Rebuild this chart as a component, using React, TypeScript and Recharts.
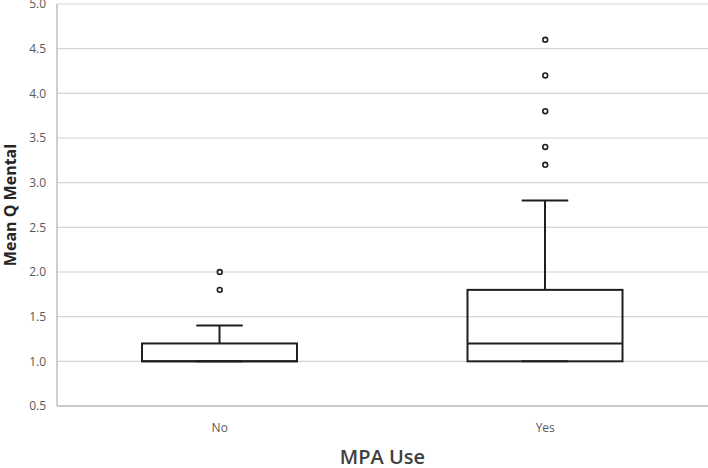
import React from 'react';
import { ComposedChart, Bar, Scatter, XAxis, YAxis, CartesianGrid } from 'recharts';

const categories = ['No', 'Yes'];
const whiskerLow = [1.0, 1.0];
const q1 = [1.0, 1.0];
const median = [1.0, 1.2];
const q3 = [1.2, 1.8];
const whiskerHigh = [1.4, 2.8];
const outliersNo = [1.8, 2.0];
const outliersYes = [3.2, 3.4, 3.8, 4.2, 4.6];
const yTicks = [0.5, 1.0, 1.5, 2.0, 2.5, 3.0, 3.5, 4.0, 4.5, 5.0];

const data = categories.map((c, i) => ({
  cat: c,
  low: whiskerLow[i],
  q1: q1[i],
  median: median[i],
  q3: q3[i],
  high: whiskerHigh[i],
  range: [whiskerLow[i], whiskerHigh[i]],
}));

const outlierData = [
  ...outliersNo.map((v) => ({ cat: 'No', value: v })),
  ...outliersYes.map((v) => ({ cat: 'Yes', value: v })),
];

const FONT = '"Open Sans", "DejaVu Sans", sans-serif';
const STROKE = '#1f1f1f';

const BoxShape = (props: any) => {
  const { x, y, width, height, payload } = props;
  const top = Math.min(y, y + height);
  const bottom = Math.max(y, y + height);
  const lo = payload.low;
  const hi = payload.high;
  const px = (v: number) => bottom + ((v - lo) / (hi - lo)) * (top - bottom);
  const cx = x + width / 2;
  const capHalf = width * 0.15;
  const yQ1 = px(payload.q1);
  const yQ3 = px(payload.q3);
  const yMed = px(payload.median);
  const yLow = px(lo);
  const yHigh = px(hi);
  return (
    <g>
      <line x1={cx} x2={cx} y1={yHigh} y2={yQ3} stroke={STROKE} strokeWidth={2} />
      <line x1={cx - capHalf} x2={cx + capHalf} y1={yHigh} y2={yHigh} stroke={STROKE} strokeWidth={2} />
      <line x1={cx} x2={cx} y1={yLow} y2={yQ1} stroke={STROKE} strokeWidth={2} />
      <line x1={cx - capHalf} x2={cx + capHalf} y1={yLow} y2={yLow} stroke={STROKE} strokeWidth={2} />
      <rect x={x} y={yQ3} width={width} height={yQ1 - yQ3} fill="none" stroke={STROKE} strokeWidth={2} />
      <line x1={x} x2={x + width} y1={yMed} y2={yMed} stroke={STROKE} strokeWidth={2} />
    </g>
  );
};

const OutlierShape = (props: any) => {
  const { cx, cy } = props;
  return <circle cx={cx} cy={cy} r={2.4} fill="#fff" stroke={STROKE} strokeWidth={1.6} />;
};

export default function App() {
  return (
    <div style={{ position: 'absolute', left: 0, top: 0, width: 708, height: 468, background: '#fff' }}>
      <ComposedChart
        width={708}
        height={468}
        data={data}
        margin={{ top: 4, right: 0, bottom: 0, left: 0 }}
      >
        <CartesianGrid vertical={false} stroke="#d4d4d4" strokeWidth={1.2} />
        <XAxis
          dataKey="cat"
          type="category"
          allowDuplicatedCategory={false}
          height={62}
          tickLine={false}
          tickSize={0}
          tickMargin={17}
          axisLine={{ stroke: '#bfbfbf', strokeWidth: 1.5 }}
          tick={{ fill: '#595959', fontSize: 12, fontFamily: FONT }}
          label={{
            value: 'MPA Use',
            position: 'insideBottom',
            offset: 4,
            style: { fill: '#404040', fontSize: 20, fontFamily: FONT, fontWeight: 600 },
          }}
        />
        <YAxis
          type="number"
          domain={[0.5, 5]}
          ticks={yTicks}
          width={57}
          tickLine={false}
          tickSize={0}
          tickMargin={11}
          interval={0}
          tickFormatter={(v: number) => v.toFixed(1)}
          axisLine={{ stroke: '#bfbfbf', strokeWidth: 1.5 }}
          tick={{ fill: '#595959', fontSize: 12, fontFamily: FONT }}
          label={{
            value: 'Mean Q Mental',
            angle: -90,
            position: 'insideLeft',
            offset: 10,
            style: { textAnchor: 'middle', fill: '#262626', fontSize: 16, fontWeight: 700, fontFamily: FONT },
          }}
        />
        <Bar dataKey="range" barSize={155} shape={<BoxShape />} isAnimationActive={false} />
        <Scatter data={outlierData} dataKey="value" shape={<OutlierShape />} isAnimationActive={false} />
      </ComposedChart>
    </div>
  );
}
